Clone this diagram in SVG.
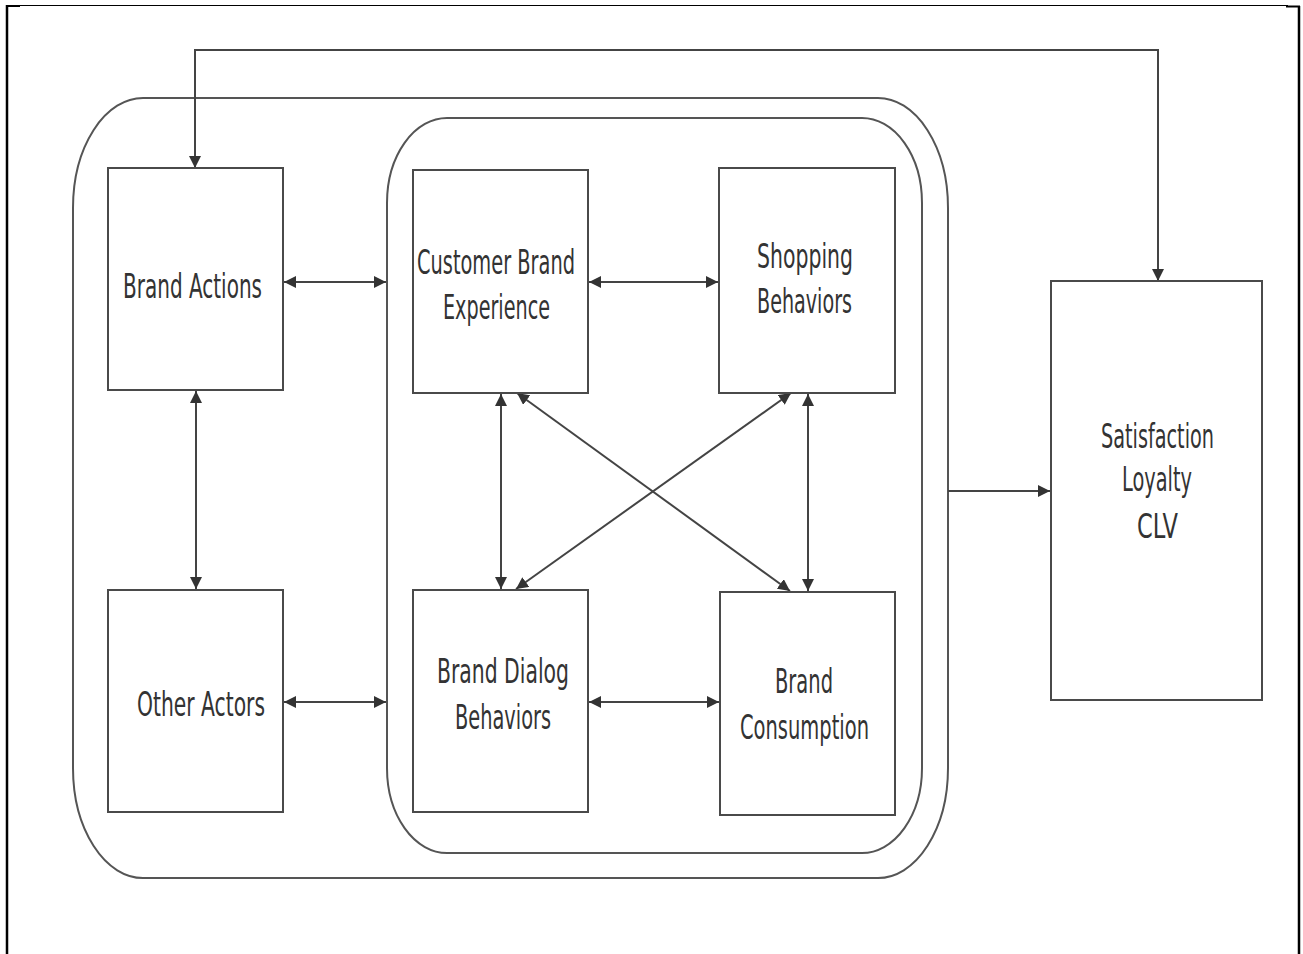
<svg xmlns="http://www.w3.org/2000/svg" width="1303" height="954" viewBox="0 0 1303 954">
  <style>
    .frame { fill: none; stroke: #000; }
    .box { fill: #fff; stroke: #4a4a4a; stroke-width: 2; }
    .round { fill: none; stroke: #555; stroke-width: 2; }
    .link { fill: none; stroke: #444; stroke-width: 2; marker-end: url(#head); }
    .both { marker-start: url(#tail); }
    .label { font-family: "DejaVu Sans Condensed", "DejaVu Sans", sans-serif; font-stretch: condensed; font-size: 34px; fill: #333; text-anchor: start; }
  </style>
  <defs>
    <marker id="head" viewBox="0 0 10 10" refX="10" refY="5" markerWidth="6" markerHeight="6" orient="auto" markerUnits="strokeWidth">
      <path d="M0,0 L10,5 L0,10 z" fill="#333"/>
    </marker>
    <marker id="tail" viewBox="0 0 10 10" refX="0" refY="5" markerWidth="6" markerHeight="6" orient="auto" markerUnits="strokeWidth">
      <path d="M10,0 L0,5 L10,10 z" fill="#333"/>
    </marker>
  </defs>

  <rect width="1303" height="954" fill="#fff"/>

  <!-- page frame -->
  <g id="frame">
    <line class="frame" x1="7" y1="5.5" x2="1288" y2="5.5" stroke-width="1"/>
    <line class="frame" x1="7" y1="6" x2="20" y2="6" stroke-width="2"/>
    <line class="frame" x1="1286" y1="6.5" x2="1300" y2="6.5" stroke-width="2"/>
    <line class="frame" x1="7" y1="5" x2="7" y2="954" stroke-width="2.5"/>
    <line class="frame" x1="1299" y1="6" x2="1299" y2="954" stroke-width="2.5"/>
  </g>

  <!-- enclosing rounded regions -->
  <g id="outer-region">
    <rect class="round" x="73" y="98" width="875" height="780" rx="70" ry="110"/>
  </g>
  <g id="inner-region">
    <rect class="round" x="387" y="118" width="535" height="735" rx="60" ry="85"/>
  </g>

  <!-- connectors -->
  <g id="connectors">
    <path class="link" d="M1158,50 L195,50 L195,168"/>
    <path class="link" d="M195,50 L1158,50 L1158,281"/>
    <line class="link both" x1="284" y1="282" x2="386" y2="282"/>
    <line class="link both" x1="284" y1="702" x2="386" y2="702"/>
    <line class="link both" x1="589" y1="282" x2="718" y2="282"/>
    <line class="link both" x1="589" y1="702" x2="719" y2="702"/>
    <line class="link both" x1="196" y1="391" x2="196" y2="589"/>
    <line class="link both" x1="501" y1="394" x2="501" y2="589"/>
    <line class="link both" x1="808" y1="394" x2="808" y2="591"/>
    <line class="link both" x1="517" y1="393" x2="790" y2="591"/>
    <line class="link both" x1="791" y1="393" x2="516" y2="589"/>
    <line class="link" x1="948" y1="491" x2="1050" y2="491"/>
  </g>

  <!-- nodes -->
  <g id="brand-actions">
    <rect class="box" x="108" y="168" width="175" height="222"/>
    <text class="label" x="123" y="298" textLength="139" lengthAdjust="spacingAndGlyphs">Brand Actions</text>
  </g>
  <g id="other-actors">
    <rect class="box" x="108" y="590" width="175" height="222"/>
    <text class="label" x="137" y="716" textLength="128" lengthAdjust="spacingAndGlyphs">Other Actors</text>
  </g>
  <g id="customer-brand-experience">
    <rect class="box" x="413" y="170" width="175" height="223"/>
    <text class="label" x="417" y="274" textLength="158" lengthAdjust="spacingAndGlyphs">Customer Brand</text>
    <text class="label" x="443" y="319" textLength="107" lengthAdjust="spacingAndGlyphs">Experience</text>
  </g>
  <g id="shopping-behaviors">
    <rect class="box" x="719" y="168" width="176" height="225"/>
    <text class="label" x="757" y="268" textLength="96" lengthAdjust="spacingAndGlyphs">Shopping</text>
    <text class="label" x="757" y="313" textLength="95" lengthAdjust="spacingAndGlyphs">Behaviors</text>
  </g>
  <g id="brand-dialog-behaviors">
    <rect class="box" x="413" y="590" width="175" height="222"/>
    <text class="label" x="437" y="683" textLength="132" lengthAdjust="spacingAndGlyphs">Brand Dialog</text>
    <text class="label" x="455" y="729" textLength="96" lengthAdjust="spacingAndGlyphs">Behaviors</text>
  </g>
  <g id="brand-consumption">
    <rect class="box" x="720" y="592" width="175" height="223"/>
    <text class="label" x="775" y="693" textLength="58" lengthAdjust="spacingAndGlyphs">Brand</text>
    <text class="label" x="740" y="739" textLength="129" lengthAdjust="spacingAndGlyphs">Consumption</text>
  </g>
  <g id="satisfaction-loyalty-clv">
    <rect class="box" x="1051" y="281" width="211" height="419"/>
    <text class="label" x="1101" y="448" textLength="113" lengthAdjust="spacingAndGlyphs">Satisfaction</text>
    <text class="label" x="1122" y="491" textLength="70" lengthAdjust="spacingAndGlyphs">Loyalty</text>
    <text class="label" x="1137" y="538" textLength="41" lengthAdjust="spacingAndGlyphs">CLV</text>
  </g>
</svg>
